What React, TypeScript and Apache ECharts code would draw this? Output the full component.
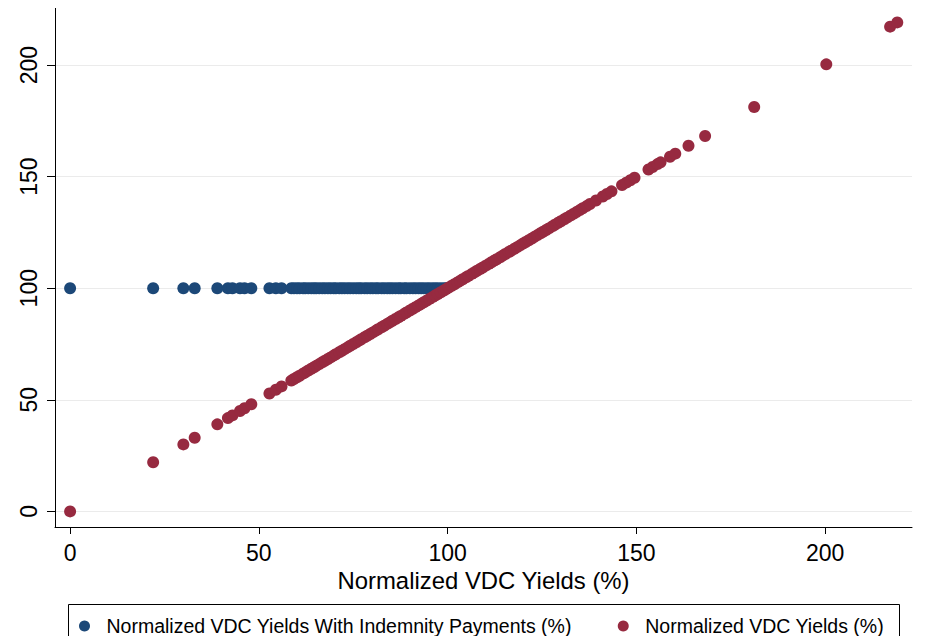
import React, { useEffect, useRef } from 'react'
import * as echarts from 'echarts'

// normalized VDC yields (%)
const lowYields = [0, 22, 30, 33, 39, 41.8, 43, 45, 46.2, 48, 52.8, 54.5, 56, 58.6]
const midYields = [
  59.3, 60.1, 60.8, 61.7, 62.3, 63.1, 63.9, 64.6, 65.2, 66.0, 66.8, 67.5, 68.3, 69.0, 69.8,
  70.4, 71.3, 72.0, 72.7, 73.5, 74.2, 75.0, 75.8, 76.5, 77.1, 78.0, 78.7, 79.5, 80.2, 81.0,
  81.6, 82.5, 83.2, 84.0, 84.7, 85.4, 86.2, 87.0, 87.6, 88.5, 89.1, 90.0, 90.8, 91.5, 92.3,
  93.0, 93.7, 94.5, 95.2, 96.0, 96.7, 97.4, 98.2, 99.0, 99.6, 100.3, 101.1, 101.8, 102.6,
  103.3, 104.0, 104.9, 105.5, 106.4, 107.1, 107.8, 108.6, 109.3, 110.1, 110.9, 111.6, 112.4,
  113.0, 113.9, 114.6, 115.3, 116.2, 116.8, 117.7, 118.4, 119.2, 120.0, 120.7, 121.5, 122.3,
  123.0, 123.8, 124.6, 125.3, 126.1, 126.8, 127.7, 128.4, 129.3, 130.0, 130.9, 131.6, 132.5,
  133.3, 134.1, 135.0, 135.8, 136.8, 137.7,
]
const highYields = [
  139.3, 141.1, 142.2, 143.4, 146.2, 147.3, 148.4, 149.5, 153.2, 154.3, 155.6, 156.4, 158.9,
  160.3, 163.8, 168.2, 181.2, 200.3, 217.2, 219.1,
]
const yields = [...lowYields, ...midYields, ...highYields]

// yields below 100 are topped up to 100 by the indemnity payments
const indemnityLevel = 100

const xTicks = [0, 50, 100, 150, 200]
const yTicks = [0, 50, 100, 150, 200]

const seriesNames = [
  'Normalized VDC Yields With Indemnity Payments (%)',
  'Normalized VDC Yields (%)',
]
const xTitle = 'Normalized VDC Yields (%)'

const FONT = '"Liberation Sans", Arial, sans-serif'

export default function App() {
  const chartRef = useRef<HTMLDivElement>(null)

  useEffect(() => {
    const chart = echarts.init(chartRef.current, null, { renderer: 'svg' })

    const withIndemnity = yields.filter(v => v < indemnityLevel).map(v => [v, indemnityLevel])
    const plain = yields.map(v => [v, v])

    chart.setOption({
      animation: false,
      backgroundColor: '#fff',
      textStyle: { fontFamily: FONT },
      grid: { left: 55, right: 14, top: 7, bottom: 117, containLabel: false },
      xAxis: {
        type: 'value',
        min: -4,
        max: 223,
        name: xTitle,
        nameLocation: 'middle',
        nameGap: 38,
        nameTextStyle: { fontSize: 23.9, color: '#000', fontFamily: FONT },
        axisLine: { show: true, onZero: false, lineStyle: { color: '#000', width: 1 } },
        axisTick: { show: true, length: 7, customValues: xTicks, lineStyle: { color: '#000' } },
        axisLabel: { customValues: xTicks, fontSize: 23, color: '#000', margin: 14, fontFamily: FONT },
        splitLine: { show: false },
      },
      yAxis: {
        type: 'value',
        min: -7,
        max: 226,
        axisLine: { show: true, onZero: false, lineStyle: { color: '#000', width: 1 } },
        axisTick: { show: true, length: 8, customValues: yTicks, lineStyle: { color: '#000' } },
        axisLabel: {
          customValues: yTicks,
          rotate: 90,
          fontSize: 23,
          color: '#000',
          margin: 15,
          fontFamily: FONT,
        },
        splitLine: { show: true, lineStyle: { color: '#ebebeb', width: 1 } },
      },
      legend: {
        left: 79,
        top: 615,
        padding: 0,
        itemWidth: 34,
        itemHeight: 11,
        itemGap: 46,
        icon: 'circle',
        textStyle: { fontSize: 19.5, color: '#000', lineHeight: 22, fontFamily: FONT },
        data: seriesNames,
      },
      graphic: [
        {
          type: 'rect',
          shape: { x: 68.5, y: 604.5, width: 831, height: 38.5 },
          style: { fill: 'none', stroke: '#000', lineWidth: 1 },
          silent: true,
        },
      ],
      series: [
        {
          name: seriesNames[0],
          type: 'scatter',
          symbolSize: 12,
          itemStyle: { color: '#1c4878', opacity: 1 },
          data: withIndemnity,
        },
        {
          name: seriesNames[1],
          type: 'scatter',
          symbolSize: 12,
          itemStyle: { color: '#972a40', opacity: 1 },
          data: plain,
        },
      ],
    })

    return () => chart.dispose()
  }, [])

  return <div ref={chartRef} style={{ width: 926, height: 644, margin: -8 }} />
}
